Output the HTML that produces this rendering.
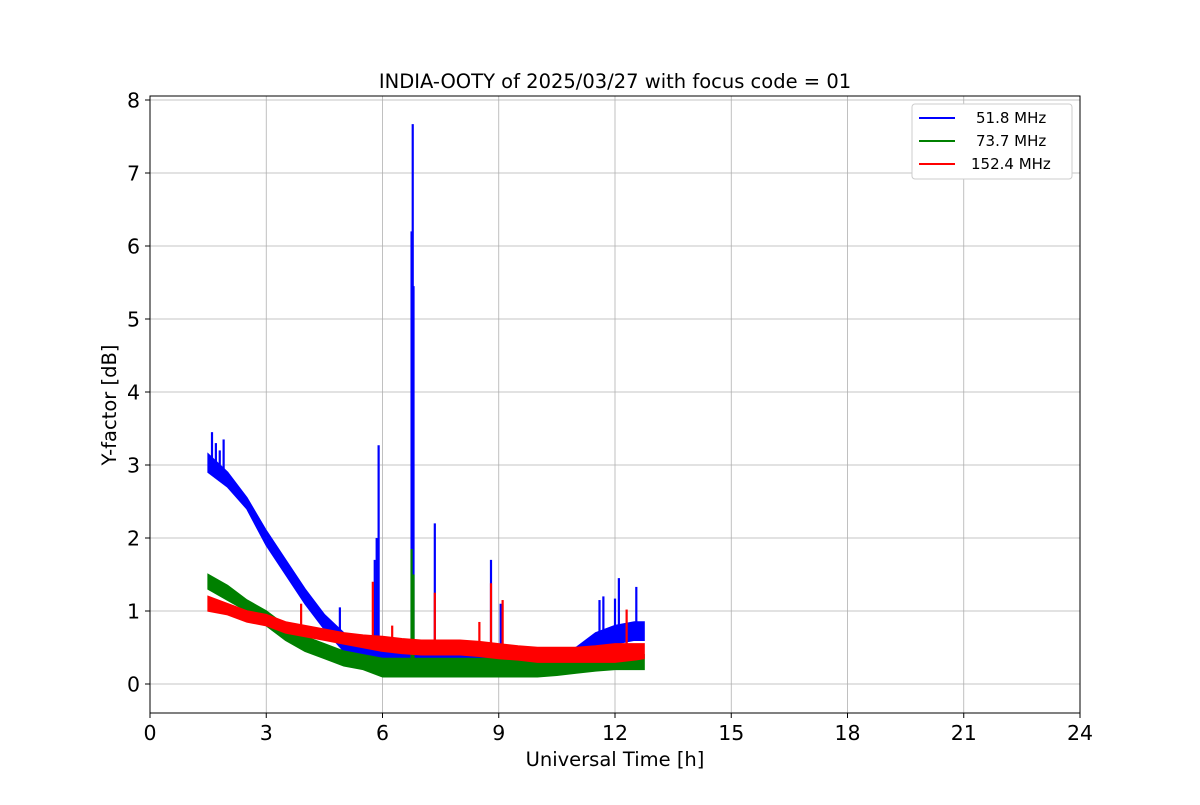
<!DOCTYPE html>
<html><head><meta charset="utf-8"><style>
body{margin:0;background:#fff;font-family:"Liberation Sans","DejaVu Sans",sans-serif}
</style></head><body>
<svg id="chart" width="1200" height="800" xmlns="http://www.w3.org/2000/svg" font-family="DejaVu Sans, Liberation Sans, sans-serif">
<rect width="1200" height="800" fill="#fff"/>
<g id="grid"></g>
<g id="series"></g>
<rect x="150" y="96" width="930" height="617" fill="none" stroke="#000" stroke-width="1"/>
<g id="axes"></g>
<text x="615" y="88" text-anchor="middle" font-size="19.5">INDIA-OOTY of 2025/03/27 with focus code = 01</text>
<text x="615" y="766" text-anchor="middle" font-size="19.5">Universal Time [h]</text>
<text transform="translate(116,405) rotate(-90)" text-anchor="middle" font-size="19.5">Y-factor [dB]</text>
<g>
<rect x="912" y="104" width="160" height="75" rx="3" fill="#fff" stroke="#ccc"/>
<line x1="919" y1="118" x2="955" y2="118" stroke="blue" stroke-width="2"/>
<text x="976" y="123" font-size="15">51.8 MHz</text>
<line x1="919" y1="141" x2="955" y2="141" stroke="green" stroke-width="2"/>
<text x="976" y="146" font-size="15">73.7 MHz</text>
<line x1="919" y1="164" x2="955" y2="164" stroke="red" stroke-width="2"/>
<text x="971" y="169" font-size="15">152.4 MHz</text>
</g>
</svg>
<script>
const xTicks=[0,3,6,9,12,15,18,21,24];
const yTicks=[0,1,2,3,4,5,6,7,8];
const times=[1.5,2,2.5,3,3.5,4,4.5,5,5.5,6,6.5,7,7.5,8,8.5,9,9.5,10,10.5,11,11.5,12,12.5,12.75];
const blueLo=[2.9,2.7,2.4,1.9,1.5,1.1,0.75,0.45,0.3,0.2,0.15,0.15,0.15,0.15,0.15,0.15,0.15,0.15,0.2,0.3,0.45,0.55,0.6,0.6];
const blueHi=[3.15,2.9,2.55,2.1,1.7,1.3,0.95,0.7,0.55,0.5,0.45,0.45,0.45,0.45,0.45,0.45,0.45,0.45,0.45,0.5,0.7,0.8,0.85,0.85];
const greenLo=[1.3,1.15,1.0,0.8,0.6,0.45,0.35,0.25,0.2,0.1,0.1,0.1,0.1,0.1,0.1,0.1,0.1,0.1,0.12,0.15,0.18,0.2,0.2,0.2];
const greenHi=[1.5,1.35,1.15,1.0,0.8,0.65,0.55,0.45,0.4,0.35,0.35,0.35,0.35,0.35,0.35,0.35,0.35,0.35,0.35,0.35,0.38,0.4,0.4,0.4];
const redLo=[1.0,0.95,0.85,0.8,0.7,0.65,0.6,0.55,0.5,0.45,0.42,0.4,0.4,0.4,0.38,0.35,0.33,0.3,0.3,0.3,0.3,0.3,0.33,0.35];
const redHi=[1.2,1.1,1.0,0.95,0.85,0.8,0.75,0.7,0.67,0.65,0.62,0.6,0.6,0.6,0.58,0.55,0.52,0.5,0.5,0.5,0.52,0.55,0.55,0.55];
const blueSpikeT=[1.6,1.7,1.8,1.9,4.9,5.8,5.85,5.9,6.75,6.78,6.8,7.35,8.8,9.05,11.6,11.7,12.0,12.1,12.55];
const blueSpikeV=[3.45,3.3,3.2,3.35,1.05,1.7,2.0,3.27,6.2,7.67,5.45,2.2,1.7,1.1,1.15,1.2,1.17,1.45,1.33];
const greenSpikeT=[6.75,6.8];
const greenSpikeV=[1.85,1.5];
const redSpikeT=[3.9,5.75,6.25,7.35,8.5,8.8,9.1,12.3];
const redSpikeV=[1.1,1.4,0.8,1.25,0.85,1.38,1.15,1.02];

const NS='http://www.w3.org/2000/svg';
const X=v=>150+v*(930/24);
const Y=v=>684-v*73;
function mk(tag,attrs,parent){const e=document.createElementNS(NS,tag);for(const k in attrs)e.setAttribute(k,attrs[k]);parent.appendChild(e);return e;}
const grid=document.getElementById('grid'),axes=document.getElementById('axes'),ser=document.getElementById('series');
xTicks.forEach(t=>{
 const l=mk('line',{x1:X(t),x2:X(t),y1:96,y2:713,stroke:'#b0b0b0','stroke-width':0.8},grid);
 
 
 mk('line',{x1:X(t),x2:X(t),y1:713,y2:718,stroke:'#000'},axes);
 const tx=mk('text',{x:X(t),y:740,'text-anchor':'middle','font-size':20.5},axes);tx.textContent=t;
 
 
});
yTicks.forEach(t=>{
 const l=mk('line',{x1:150,x2:1080,y1:Y(t),y2:Y(t),stroke:'#b0b0b0','stroke-width':0.8},grid);
 
 
 mk('line',{x1:145,x2:150,y1:Y(t),y2:Y(t),stroke:'#000'},axes);
 const tx=mk('text',{x:140,y:Y(t)+7.5,'text-anchor':'end','font-size':20.5},axes);tx.textContent=t;
 
 
});
function band(lo,hi,sT,sV,color,name){
 let pts=[];
 times.forEach((t,i)=>pts.push(X(t)+','+Y(hi[i])));
 for(let i=times.length-1;i>=0;i--)pts.push(X(times[i])+','+Y(lo[i]));
 const p=mk('polygon',{points:pts.join(' '),fill:color,stroke:color,'stroke-width':1.5},ser);
 
 
 sT.forEach((t,i)=>{
  let j=0;while(j<times.length-2&&times[j+1]<t)j++;
  const f=(t-times[j])/(times[j+1]-times[j]);
  const base=lo[j]+(lo[j+1]-lo[j])*f;
  const s=mk('line',{x1:X(t),x2:X(t),y1:Y(base),y2:Y(sV[i]),stroke:color,'stroke-width':2.2},ser);
  
  
 });
}
band(blueLo,blueHi,blueSpikeT,blueSpikeV,'blue','series-51-8');
band(greenLo,greenHi,greenSpikeT,greenSpikeV,'green','series-73-7');
band(redLo,redHi,redSpikeT,redSpikeV,'red','series-152-4');
</script>
</body></html>
